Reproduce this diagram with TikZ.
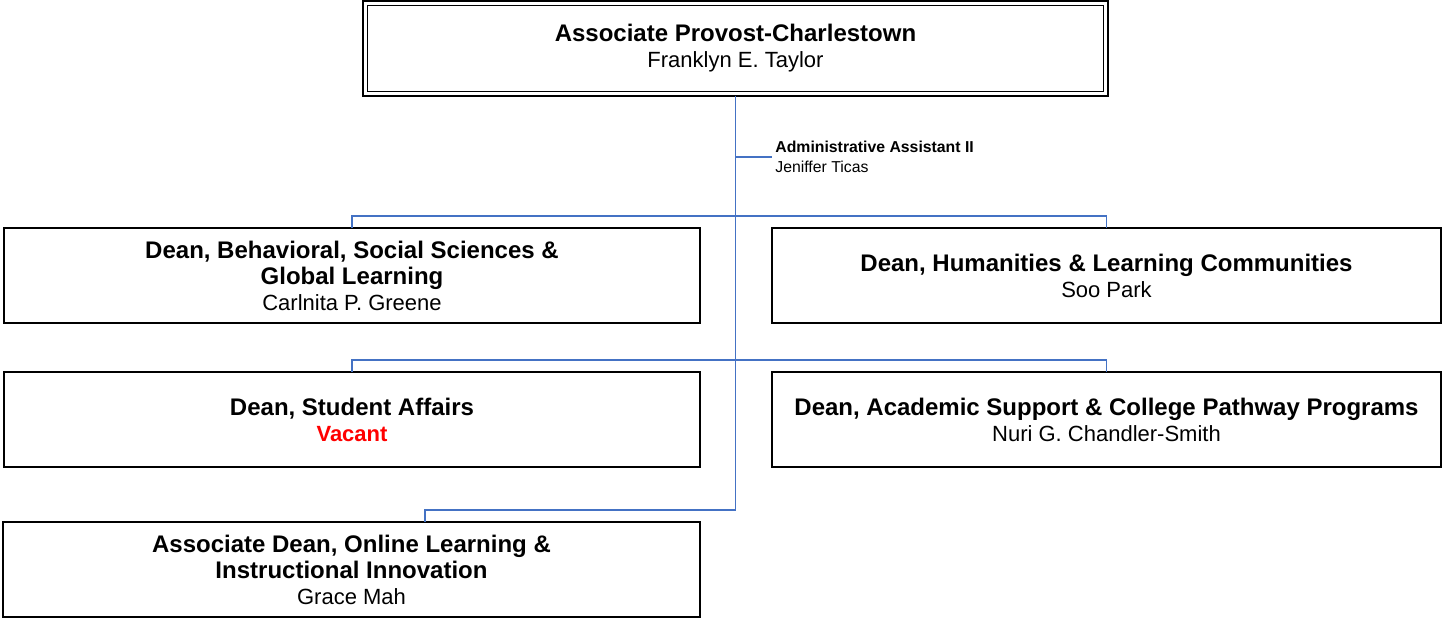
\documentclass[tikz,border=0pt]{standalone}
\usepackage{fontspec}
\setmainfont{Liberation Sans}
\usetikzlibrary{calc}
\definecolor{linkblue}{RGB}{68,114,196}
\newcommand{\postname}[1]{{\bfseries\fontsize{12}{13}\selectfont #1}}

\begin{document}
\begin{tikzpicture}[x=0.5pt,y=-0.5pt,
		post/.style={draw, line width=0.8pt, inner sep=0pt, outer sep=0pt, align=center,
			minimum height=47.5pt, font=\fontsize{11}{13}\selectfont},
		link/.style={draw=linkblue, line width=0.8pt}]
		\useasboundingbox (0,0) rectangle (1445,618);
		
		% top box, double frame
		\node[post, line width=1pt, minimum width=372.5pt] (provost) at (735.5,48)
		{\postname{Associate Provost-Charlestown}\\Franklyn E. Taylor};
		\draw[line width=0.5pt] ($(provost.north west)+(4.5,4.5)$) rectangle ($(provost.south east)+(-4.5,-4.5)$);
		
		% assistant
		\node[anchor=west, align=left, inner sep=0pt, font=\fontsize{7.9}{10}\selectfont] (asst) at (775,157)
		{\textbf{Administrative Assistant II}\\Jeniffer Ticas};
		
		% deans
		\node[post, minimum width=348pt] (bss) at (352,275.5)
		{\postname{Dean, Behavioral, Social Sciences \&}\\\postname{Global Learning}\\Carlnita P. Greene};
		\node[post, minimum width=334.5pt] (hum) at (1106.5,275.5)
		{\postname{Dean, Humanities \& Learning Communities}\\Soo Park};
		\node[post, minimum width=348pt] (sa) at (352,419.5)
		{\postname{Dean, Student Affairs}\\\textcolor{red}{\textbf{Vacant}}};
		\node[post, minimum width=334.5pt] (acs) at (1106.5,419.5)
		{\postname{Dean, Academic Support \& College Pathway Programs}\\Nuri G. Chandler-Smith};
		\node[post, minimum width=348.5pt] (online) at (351.5,569.5)
		{\postname{Associate Dean, Online Learning \&}\\\postname{Instructional Innovation}\\Grace Mah};
		
		% connectors
		\draw[link] (provost.south) |- ($(online.north)+(73.5,-12)$) -- ($(online.north)+(73.5,0)$);
		\draw[link] (provost.south |- asst.west) -- ([xshift=-1.5pt]asst.west);
		\draw[link] (bss.north) -- ++(0,-12) -| (hum.north);
		\draw[link] (sa.north) -- ++(0,-12) -| (acs.north);
		
	\end{tikzpicture}
\end{document}
